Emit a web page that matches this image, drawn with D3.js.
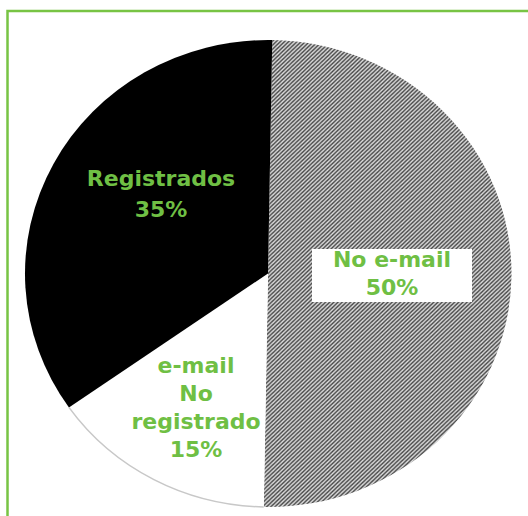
<!DOCTYPE html>
<html>
<head>
<meta charset="utf-8">
<script src="https://cdn.jsdelivr.net/npm/d3@7"></script>
<style>
  body { margin: 0; background: #fff; }
  text { font-family: "DejaVu Sans", sans-serif; font-weight: 700; }
</style>
</head>
<body>
<div class="chart"></div>
<script>
// data
const categories = ["No e-mail", "e-mail No registrado", "Registrados"];
const values = [50, 15, 35];
const labelLines = [["No e-mail", "50%"], ["e-mail", "No", "registrado", "15%"], ["Registrados", "35%"]];

const width = 528, height = 516;
const cx = 268, cy = 273.5;
const ry = 233.5, rx = 243;
const green = "#6fbf44";

const svg = d3.select(".chart").append("svg")
    .attr("width", width)
    .attr("height", height);

// hatch pattern
const defs = svg.append("defs");
const pat = defs.append("pattern")
    .attr("id", "hatch")
    .attr("patternUnits", "userSpaceOnUse")
    .attr("width", 4)
    .attr("height", 4);
pat.append("rect").attr("width", 4).attr("height", 4).attr("fill", "#f2f2f2");
pat.append("path")
    .attr("d", "M-1,1 l2,-2 M0,4 l4,-4 M3,5 l2,-2")
    .attr("stroke", "#333")
    .attr("stroke-width", 1.4);

const fills = ["url(#hatch)", "#ffffff", "#000000"];

// green frame
svg.append("rect")
    .attr("x", 7.5).attr("y", 11)
    .attr("width", 700).attr("height", 700)
    .attr("fill", "none")
    .attr("stroke", "#78c444")
    .attr("stroke-width", 2.5);

const rot = 1 * Math.PI / 180;
const pie = d3.pie().sort(null)
    .startAngle(rot).endAngle(2 * Math.PI + rot)
    .value(d => d);
const arcs = pie(values);
const arc = d3.arc().innerRadius(0).outerRadius(ry);
const rim = d3.arc().innerRadius(ry).outerRadius(ry);

const g = svg.append("g")
    .attr("transform", `translate(${cx},${cy}) scale(${rx / ry},1)`);

g.selectAll(".slice")
    .data(arcs)
    .enter()
    .append("path")
    .attr("class", "slice")
    .attr("d", arc)
    .attr("fill", (d, i) => fills[i]);

// light grey edge on the white slice
g.append("path")
    .attr("d", rim(arcs[1]))
    .attr("fill", "none")
    .attr("stroke", "#c8c8c8")
    .attr("stroke-width", 1.5);

// labels
const labelPos = [[392, 267], [196, 373], [161, 186]];
const lineH = [28, 28, 31];

svg.append("rect")
    .attr("x", 312).attr("y", 249)
    .attr("width", 160).attr("height", 53)
    .attr("fill", "#fff");

labelLines.forEach((lines, i) => {
    const t = svg.append("text")
        .attr("x", labelPos[i][0])
        .attr("y", labelPos[i][1])
        .attr("text-anchor", "middle")
        .attr("fill", green)
        .attr("font-size", 22);
    lines.forEach((s, j) => {
        t.append("tspan")
            .attr("x", labelPos[i][0])
            .attr("y", labelPos[i][1] + j * lineH[i])
            .text(s);
    });
});
</script>
</body>
</html>
